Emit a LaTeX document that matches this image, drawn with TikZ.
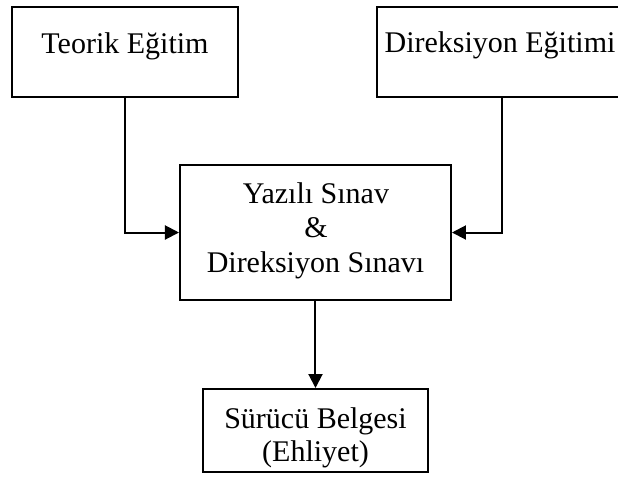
\documentclass[tikz,border=0pt]{standalone}
\usepackage{fontspec}
\setmainfont{Liberation Serif}
\usetikzlibrary{arrows.meta}
\begin{document}
\begin{tikzpicture}[x=0.5pt,y=-0.5pt,
  box/.style={draw,line width=1pt,inner sep=0pt},
  lbl/.style={anchor=base,inner sep=0pt,font=\fontsize{15}{18}\selectfont},
  arr/.style={line width=1pt,-{Triangle[length=7pt,width=7pt]}}]
\useasboundingbox (0,0) rectangle (618,484);
\fill[white] (0,0) rectangle (618,484);
\clip (0,0) rectangle (618,484);
% boxes
\node[box,minimum width=113pt,minimum height=45pt] (teorik) at (125,52) {};
\node[box,minimum width=125pt,minimum height=45pt] (direk) at (502,52) {};
\node[box,minimum width=135.5pt,minimum height=67.5pt] (sinav) at (315.5,232.5) {};
\node[box,minimum width=112.5pt,minimum height=41.5pt] (ehliyet) at (315.5,430.5) {};
% texts
\node[lbl] (t1) at (125,53) {Teorik Eğitim};
\node[lbl] (t2) at (500,52) {Direksiyon Eğitimi};
\node[lbl] (t3) at (316,203) {Yazılı Sınav};
\node[lbl] (t4) at (316,237) {\&};
\node[lbl] (t5) at (315.5,272) {Direksiyon Sınavı};
\node[lbl] (t6) at (315.5,428) {Sürücü Belgesi};
\node[lbl] (t7) at (315.5,461) {(Ehliyet)};
% connectors
\draw[arr] (teorik.south) |- (sinav.west);
\draw[arr] (direk.south) |- (sinav.east);
\draw[arr] (sinav.south) -- (ehliyet.north);
\end{tikzpicture}
\end{document}
